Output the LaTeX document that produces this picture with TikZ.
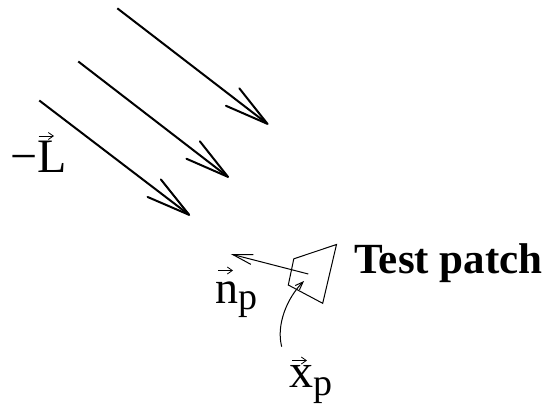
\documentclass[tikz,border=0pt]{standalone}
\usepackage{fontspec}
\setmainfont{Liberation Serif}
\usetikzlibrary{arrows.meta}
\tikzset{
  lightray/.style={line width=2pt, -{Straight Barb[length=44pt,width=22pt,round]}},
  thinline/.style={line width=1pt, line join=miter},
  normalarrow/.style={line width=1pt, -{Straight Barb[length=20pt,width=10pt]}},
  pointer/.style={line width=1pt, -{Straight Barb[length=8pt,width=6pt]}},
  vecarrow/.style={line width=0.8pt, -{Straight Barb[length=5pt,width=7pt]}},
  lbl/.style={inner sep=0pt, anchor=base west},
}
\begin{document}
\begin{tikzpicture}[x=1pt,y=-1pt]
\useasboundingbox (0,0) rectangle (544,408);
% light rays
\coordinate (r1s) at (117.3,8.3);  \coordinate (r1e) at (268.3,124.5);
\coordinate (r2s) at (78.3,61.5);  \coordinate (r2e) at (228.8,177.5);
\coordinate (r3s) at (39.3,100.5); \coordinate (r3e) at (190,215.5);
\draw[lightray] (r1s) -- (r1e);
\draw[lightray] (r2s) -- (r2e);
\draw[lightray] (r3s) -- (r3e);
% -L label
\node[lbl] (Llbl) at (10,172) {\fontsize{48}{48}\selectfont −L};
\coordinate (Lvs) at (38.5,136); \coordinate (Lve) at (54,136);
\draw[vecarrow] (Lvs) -- (Lve);
% test patch
\coordinate (q1) at (336.5,244.5);
\coordinate (q2) at (293.8,258.8);
\coordinate (q3) at (288.3,285);
\coordinate (q4) at (322.7,303.3);
\draw[thinline] (q1) -- (q2) -- (q3) -- (q4) -- cycle;
% normal
\coordinate (ns) at (308.3,274);
\coordinate (ne) at (230.7,254);
\draw[normalarrow] (ns) -- (ne);
\node[lbl] (nlbl) at (215,303) {\fontsize{46}{46}\selectfont n\raisebox{-6pt}{\fontsize{38}{38}\selectfont p}};
\coordinate (nvs) at (218,270.5); \coordinate (nve) at (233,270.5);
\draw[vecarrow] (nvs) -- (nve);
% position pointer
\coordinate (xs) at (281.7,346.7);
\coordinate (xe) at (304,281);
\draw[pointer] (xs) .. controls (276,325) and (287,298) .. (xe);
\node[lbl] (xlbl) at (289,387) {\fontsize{48}{48}\selectfont x\raisebox{-8pt}{\fontsize{38}{38}\selectfont p}};
\coordinate (xvs) at (292,360.5); \coordinate (xve) at (307,360.5);
\draw[vecarrow] (xvs) -- (xve);
% title
\node[lbl] (title) at (354,273) {\fontsize{43}{43}\selectfont\bfseries Test patch};
\end{tikzpicture}
\end{document}
